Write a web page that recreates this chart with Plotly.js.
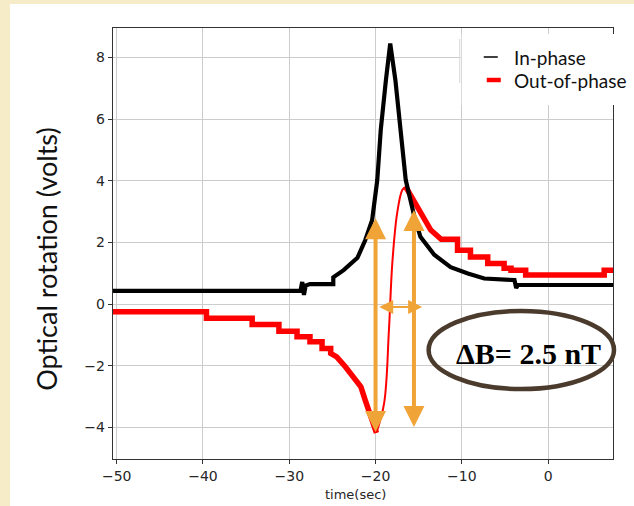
<!DOCTYPE html>
<html>
<head>
<meta charset="utf-8">
<script src="https://cdn.plot.ly/plotly-3.0.1.min.js"></script>
<style>
html,body{margin:0;padding:0;width:634px;height:506px;overflow:hidden;background:#F7ECC8;}
#white{position:absolute;left:10px;top:4px;width:624px;height:502px;background:#ffffff;}
#chart{position:absolute;left:0;top:0;width:634px;height:506px;}
</style>
</head>
<body>
<div id="white"></div>
<div id="chart"></div>
<script>
// In-phase signal (black)
const inPhaseT = [-50.43, -29.7, -28.7, -28.5, -28.3, -28.1, -27.6, -24.9, -24.9, -23.7, -22.1, -21.2, -20.4, -19.8, -19.4, -18.8, -18.3, -17.7, -17.1, -16.5, -15.5, -14.8, -13.2, -11.3, -9.3, -7.4, -3.9, -3.7, -3.5, 7.52];
const inPhaseV = [0.43, 0.43, 0.43, 0.72, 0.3, 0.6, 0.65, 0.65, 0.87, 1.1, 1.5, 2.07, 2.72, 4.02, 5.64, 7.26, 8.45, 7.26, 5.64, 4.02, 2.83, 2.18, 1.6, 1.2, 0.99, 0.83, 0.78, 0.52, 0.62, 0.62];

// Out-of-phase signal (red): descending part, fast swing, and decay
const outDescT = [-50.43, -39.6, -39.6, -34.3, -34.3, -31.2, -31.2, -29.1, -29.1, -27.6, -27.6, -26.2, -26.2, -25.2, -25.2, -24.5, -23.5, -22.5, -21.7, -21.2, -20.7, -19.9];
const outDescV = [-0.25, -0.25, -0.46, -0.46, -0.66, -0.66, -0.88, -0.88, -1.06, -1.06, -1.22, -1.22, -1.44, -1.44, -1.6, -1.71, -2.03, -2.36, -2.68, -3.11, -3.54, -4.17];
const outSwingT = [-19.9, -19.0, -18.45, -18.06, -17.5, -16.9, -16.5];
const outSwingV = [-4.17, -3.2, -0.84, 1.32, 2.94, 3.7, 3.8];
const outDecayT = [-16.5, -15.2, -14.8, -14.0, -13.6, -12.4, -10.5, -10.5, -9.0, -9.0, -7.0, -7.0, -5.1, -5.1, -4.3, -4.3, -2.6, -2.6, 6.5, 6.5, 7.52];
const outDecayV = [3.8, 3.15, 2.94, 2.62, 2.4, 2.1, 2.1, 1.75, 1.75, 1.53, 1.53, 1.32, 1.32, 1.16, 1.16, 1.1, 1.1, 0.94, 0.94, 1.1, 1.1];

const xTicks = [-50, -40, -30, -20, -10, 0];
const yTicks = [-4, -2, 0, 2, 4, 6, 8];
const seriesNames = ['In-phase', 'Out-of-phase'];
const xTitle = 'time(sec)';
const yTitle = 'Optical rotation (volts)';
const noteText = 'ΔB= 2.5 nT';

const RED = '#FF0000';
const ORANGE = '#F0A337';

const traces = [
  {x: outDescT, y: outDescV, mode: 'lines', line: {color: RED, width: 5.5}, name: seriesNames[1], showlegend: false},
  {x: outSwingT, y: outSwingV, mode: 'lines', line: {color: RED, width: 2, shape: 'spline'}, showlegend: false},
  {x: outDecayT, y: outDecayV, mode: 'lines', line: {color: RED, width: 5.5}, showlegend: false},
  {x: inPhaseT, y: inPhaseV, mode: 'lines', line: {color: '#000000', width: 4.2}, name: seriesNames[0], showlegend: false}
];

// pixel -> paper helpers (plot area: 113..612 x, 28..459 y)
const px = v => (v - 113) / 499;
const py = v => (459 - v) / 431;

const tickFont = {family: 'DejaVu Sans', size: 14, color: '#262626'};

const layout = {
  width: 634, height: 506,
  margin: {l: 113, r: 21, t: 28, b: 47},
  paper_bgcolor: 'rgba(0,0,0,0)',
  plot_bgcolor: '#ffffff',
  showlegend: false,
  xaxis: {
    range: [-50.43, 7.52], tickvals: xTicks, ticks: 'outside', ticklen: 4, tickcolor: '#333',
    showgrid: true, gridcolor: '#cccccc', gridwidth: 1, zeroline: false,
    showline: true, mirror: true, linecolor: '#333', linewidth: 1.4,
    tickfont: tickFont
  },
  yaxis: {
    range: [-5.02, 8.95], tickvals: yTicks, ticks: 'outside', ticklen: 4, tickcolor: '#333',
    showgrid: true, gridcolor: '#cccccc', gridwidth: 1, zeroline: false,
    showline: true, mirror: true, linecolor: '#333', linewidth: 1.4,
    tickfont: tickFont
  },
  shapes: [
    {type: 'line', xref: 'paper', yref: 'paper', x0: px(459), x1: px(459), y0: py(39), y1: py(83), line: {color: '#dddddd', width: 1.2}, layer: 'above'},
    {type: 'rect', xref: 'paper', yref: 'paper', x0: px(461), x1: px(640), y0: py(105), y1: py(34), fillcolor: '#ffffff', line: {width: 0}, layer: 'above'},
    {type: 'line', xref: 'paper', yref: 'paper', x0: px(483), x1: px(497), y0: py(57), y1: py(57), line: {color: '#000', width: 1.5}, layer: 'above'},
    {type: 'line', xref: 'paper', yref: 'paper', x0: px(486), x1: px(500), y0: py(80), y1: py(80), line: {color: RED, width: 4.5}, layer: 'above'},
    {type: 'circle', xref: 'paper', yref: 'paper', x0: px(428), x1: px(613), y0: py(389), y1: py(311), line: {color: '#4B3B2D', width: 4.5}, layer: 'above'}
  ],
  annotations: [
    {xref: 'paper', yref: 'paper', x: px(511), y: py(57), xanchor: 'left', yanchor: 'middle', text: seriesNames[0], showarrow: false, font: {family: 'Lato', size: 19, color: '#111'}},
    {xref: 'paper', yref: 'paper', x: px(511), y: py(80), xanchor: 'left', yanchor: 'middle', text: seriesNames[1], showarrow: false, font: {family: 'Lato', size: 19, color: '#111'}},
    {xref: 'paper', yref: 'paper', x: px(355), y: py(494), xanchor: 'center', yanchor: 'middle', text: xTitle, showarrow: false, font: {family: 'DejaVu Sans', size: 13, color: '#262626'}},
    {xref: 'paper', yref: 'paper', x: px(46), y: py(259), xanchor: 'center', yanchor: 'middle', textangle: -90, text: yTitle, showarrow: false, font: {family: 'Lato', size: 27, color: '#111'}},
    {xref: 'paper', yref: 'paper', x: px(528), y: py(353), xanchor: 'center', yanchor: 'middle', text: '<b>' + noteText + '</b>', showarrow: false, font: {family: 'Liberation Serif', size: 30, color: '#000'}},
    {xref: 'x', yref: 'y', axref: 'x', ayref: 'y', x: -20.0, y: 2.78, ax: -20.0, ay: -4.19, text: '', showarrow: true, arrowside: 'end+start', arrowhead: 2, startarrowhead: 2, arrowwidth: 4, arrowsize: 1.05, startarrowsize: 1.05, arrowcolor: ORANGE},
    {xref: 'x', yref: 'y', axref: 'x', ayref: 'y', x: -15.55, y: 3.05, ax: -15.55, ay: -4.03, text: '', showarrow: true, arrowside: 'end+start', arrowhead: 2, startarrowhead: 2, arrowwidth: 4, arrowsize: 1.05, startarrowsize: 1.05, arrowcolor: ORANGE},
    {xref: 'x', yref: 'y', axref: 'x', ayref: 'y', x: -14.6, y: -0.09, ax: -19.75, ay: -0.09, text: '', showarrow: true, arrowside: 'end+start', arrowhead: 2, startarrowhead: 2, arrowwidth: 2, arrowsize: 1.4, startarrowsize: 1.4, arrowcolor: ORANGE}
  ]
};

Plotly.newPlot('chart', traces, layout, {displayModeBar: false, staticPlot: true});
</script>
</body>
</html>
